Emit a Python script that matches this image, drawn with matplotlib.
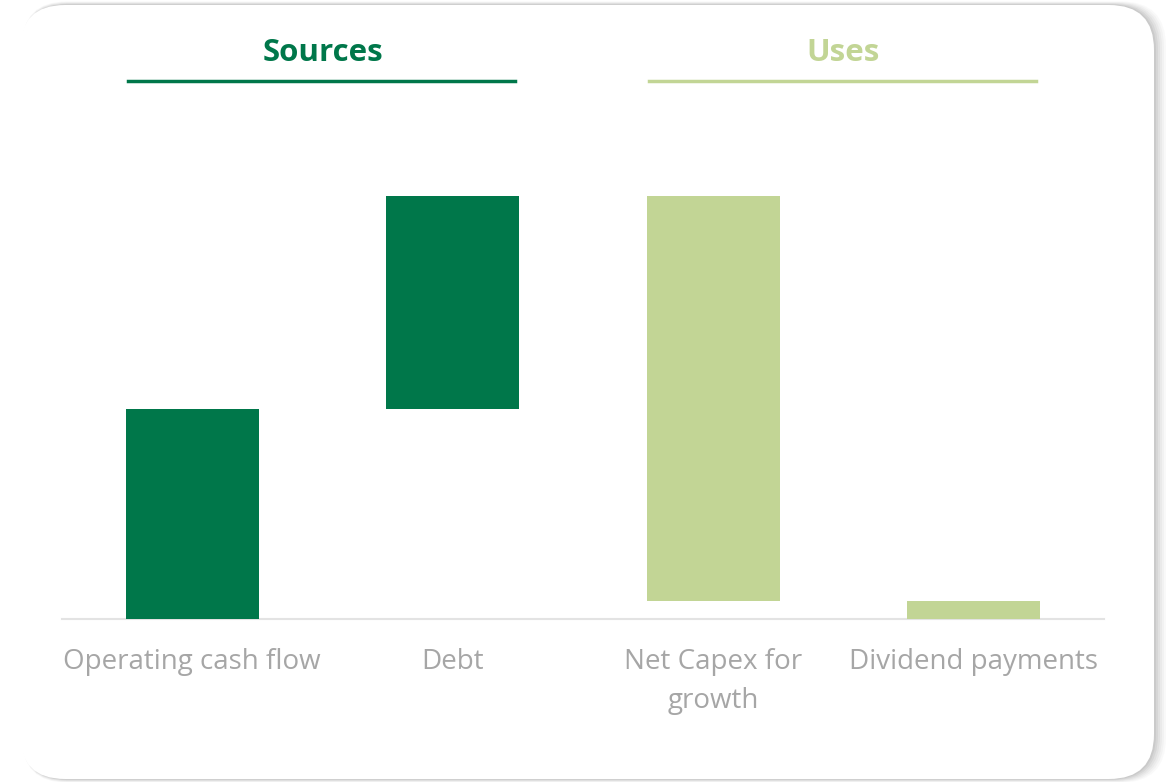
import matplotlib
matplotlib.use("Agg")
import matplotlib.pyplot as plt
from matplotlib.patches import FancyBboxPatch
from matplotlib.transforms import IdentityTransform

categories = ["Operating cash flow", "Debt", "Net Capex for\ngrowth", "Dividend payments"]
values = [210, 213, -405, -18]
groups = ["Sources", "Uses"]
dark_green = "#00774A"
light_green = "#C2D595"
colors = [dark_green, dark_green, light_green, light_green]

W, H = 1173, 782
fig = plt.figure(figsize=(W / 100, H / 100), dpi=100)
fig.patch.set_facecolor("white")

# card with soft shadow (pixel coordinates)
tr = IdentityTransform()
layers = [(12, 0.04), (10, 0.05), (8, 0.06), (6, 0.08), (4, 0.10), (2, 0.12)]
for off, a in layers:
    sh = FancyBboxPatch((20 + 2, 3 - off * 0.3), 1134 + off - 2, 774 + off * 0.6,
                        boxstyle="round,pad=0,rounding_size=45", transform=tr,
                        facecolor="#7a7a7a", edgecolor="none", alpha=a, zorder=0)
    fig.patches.append(sh)
card = FancyBboxPatch((20, 3), 1134, 774, boxstyle="round,pad=0,rounding_size=45",
                      transform=tr, facecolor="white", edgecolor="none", zorder=1)
fig.patches.append(card)

left, right = 62 / W, 1104 / W
bottom, top = 163 / H, (H - 100) / H
ax = fig.add_axes([left, bottom, right - left, top - bottom])
ax.set_facecolor("none")
ax.set_zorder(2)

starts = []
cum = 0
for v in values:
    if v >= 0:
        starts.append(cum)
        cum += v
    else:
        cum += v
        starts.append(cum)
heights = [abs(v) for v in values]
x = list(range(len(categories)))
ax.bar(x, heights, bottom=starts, width=0.51, color=colors, zorder=3)

ax.set_xlim(-0.5, len(categories) - 0.5)
ax.set_ylim(0, 519)
for s in ["top", "right", "left"]:
    ax.spines[s].set_visible(False)
ax.spines["bottom"].set_color("#E3E3E3")
ax.spines["bottom"].set_linewidth(1.5)
ax.set_yticks([])
ax.set_xticks(x)
ax.set_xticklabels(categories, fontsize=20, color="#A6A6A6", family="Open Sans",
                   linespacing=1.5)
ax.tick_params(axis="x", length=0, pad=21)

# group headers
header_y = H - 53
line_y = H - 81
for gi, (g, c) in enumerate(zip(groups, [dark_green, light_green])):
    cx = 2 * gi + 0.5
    xd0 = ax.transData.transform((cx - 0.75, 0))[0]
    xd1 = ax.transData.transform((cx + 0.75, 0))[0]
    xc = ax.transData.transform((cx, 0))[0]
    fig.text(xc / W, header_y / H, g, ha="center", va="center", fontsize=22.5,
             fontweight="bold", color=c, family="Open Sans", zorder=5)
    fig.add_artist(plt.Line2D([(xd0 + 1) / W, (xd1 - 3) / W], [line_y / H, line_y / H],
                              color=c, linewidth=2.5, transform=fig.transFigure, zorder=5))

fig.savefig("out.png", dpi=100)
